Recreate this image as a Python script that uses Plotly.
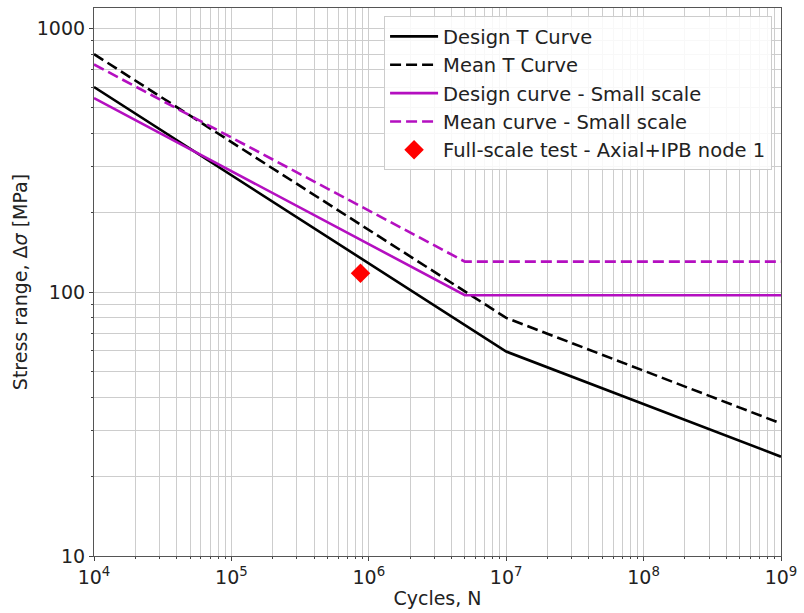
import numpy as np
import plotly.graph_objects as go

# Data
design_T_N = [1e4, 1e7, 1e9]
design_T_S = [600, 59.6, 23.8]
mean_T_N = [1e4, 1e7, 1e9]
mean_T_S = [800, 80, 31.8]
design_ss_N = [1e4, 5e6, 1e9]
design_ss_S = [545, 97.5, 97.5]
mean_ss_N = [1e4, 5e6, 1e9]
mean_ss_S = [731, 130.7, 130.7]
test_N = [8.7e5]
test_S = [118]

x_tick_vals = [1e4, 1e5, 1e6, 1e7, 1e8, 1e9]
x_tick_text = ["10<sup>4</sup>", "10<sup>5</sup>", "10<sup>6</sup>", "10<sup>7</sup>", "10<sup>8</sup>", "10<sup>9</sup>"]
y_tick_vals = [10, 100, 1000]
y_tick_text = ["10", "100", "1000"]

MAG = "#b40fc0"
FONT = "DejaVu Sans"

fig = go.Figure()
fig.add_trace(go.Scatter(x=design_T_N, y=design_T_S, mode="lines", name="Design T Curve",
                         legendgroup="a", line=dict(color="black", width=2.6)))
fig.add_trace(go.Scatter(x=mean_T_N, y=mean_T_S, mode="lines", name="Mean T Curve",
                         legendgroup="b", line=dict(color="black", width=2.6, dash="11px,5px")))
fig.add_trace(go.Scatter(x=design_ss_N, y=design_ss_S, mode="lines", name="Design curve - Small scale",
                         legendgroup="c", line=dict(color=MAG, width=2.6)))
fig.add_trace(go.Scatter(x=mean_ss_N, y=mean_ss_S, mode="lines", name="Mean curve - Small scale",
                         legendgroup="d", line=dict(color=MAG, width=2.6, dash="11px,5px")))
fig.add_trace(go.Scatter(x=test_N, y=test_S, mode="markers", name="Full-scale test - Axial+IPB node 1",
                         legendgroup="e",
                         marker=dict(symbol="diamond", color="red", size=15, line=dict(width=0))))

x_minor = [m * 10 ** d for d in range(4, 9) for m in range(2, 10)]
y_minor = [m * 10 ** d for d in range(1, 4) for m in range(2, 10) if m * 10 ** d <= 1200]

GRID = "#cdcdcd"
fig.update_xaxes(type="log", range=[4, 9], tickvals=x_tick_vals, ticktext=x_tick_text,
                 showgrid=True, gridcolor=GRID, gridwidth=1,
                 ticks="outside", ticklen=4, tickcolor="#444",
                 minor=dict(tickvals=x_minor, showgrid=True, gridcolor=GRID, gridwidth=1,
                            ticks="outside", ticklen=2, tickcolor="#444"),
                 showline=True, linecolor="#555", linewidth=1.2, mirror=True,
                 title=dict(text="Cycles, N", font=dict(size=19, color="#222", family=FONT), standoff=4),
                 tickfont=dict(size=19, color="#222", family=FONT), zeroline=False)
fig.update_yaxes(type="log", range=[1, 3.078], tickvals=y_tick_vals, ticktext=y_tick_text,
                 showgrid=True, gridcolor=GRID, gridwidth=1,
                 ticks="outside", ticklen=4, tickcolor="#444",
                 minor=dict(tickvals=y_minor, showgrid=True, gridcolor=GRID, gridwidth=1,
                            ticks="outside", ticklen=2, tickcolor="#444"),
                 showline=True, linecolor="#555", linewidth=1.2, mirror=True,
                 title=dict(text="Stress range, Δ<i>σ</i> [MPa]", font=dict(size=19, color="#222", family=FONT), standoff=4),
                 tickfont=dict(size=19, color="#222", family=FONT), zeroline=False)

fig.update_layout(
    width=804, height=613,
    margin=dict(l=94, r=21, t=7, b=57),
    plot_bgcolor="white", paper_bgcolor="white",
    font=dict(family=FONT, size=19, color="#222"),
    legend=dict(x=0.987, y=0.985, xanchor="right", yanchor="top",
                bgcolor="rgba(255,255,255,0.85)", bordercolor="#cccccc", borderwidth=1,
                font=dict(size=19.5, family=FONT, color="#222"),
                itemwidth=48, tracegroupgap=2, traceorder="normal"),
    showlegend=True,
)

fig.write_html("out.html")
